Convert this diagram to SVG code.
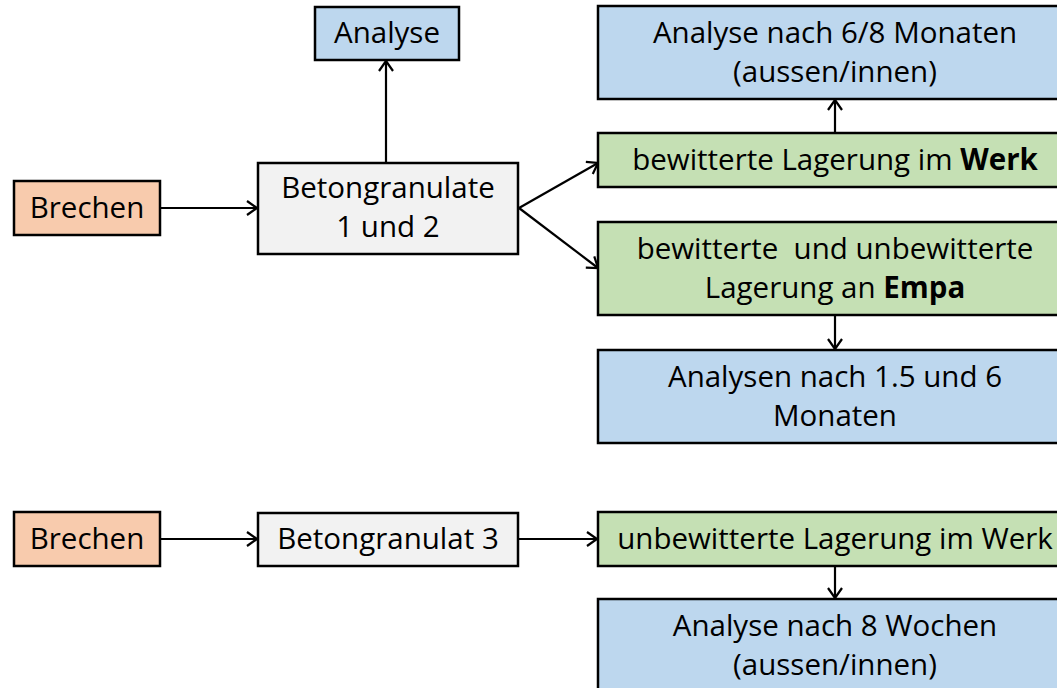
<svg xmlns="http://www.w3.org/2000/svg" width="1057" height="688" viewBox="0 0 1057 688">
<defs>
<style>
rect{stroke:#000;stroke-width:2.5}
.o{fill:#F8CBAD}.g{fill:#F2F2F2}.b{fill:#BDD7EE}.gr{fill:#C5E0B4}
text{font-family:"Open Sans","Liberation Sans",sans-serif;font-size:29.5px;fill:#000;text-anchor:middle;white-space:pre}
.bd{font-weight:bold}
.c line{stroke:#000;stroke-width:2.2;marker-end:url(#ah)}
</style>
<marker id="ah" markerUnits="userSpaceOnUse" markerWidth="20" markerHeight="20" refX="11" refY="8" orient="auto">
<path d="M1,1 L11,8 L1,15" fill="none" stroke="#000" stroke-width="2.2"/>
</marker>
</defs>
<g class="c">
<line x1="160" y1="208" x2="257" y2="208"/>
<line x1="386" y1="163" x2="386" y2="61"/>
<line x1="519" y1="208" x2="598" y2="163"/>
<line x1="519" y1="208" x2="598" y2="268"/>
<line x1="835" y1="133" x2="835" y2="100"/>
<line x1="835" y1="315" x2="835" y2="349"/>
<line x1="160" y1="539" x2="257" y2="539"/>
<line x1="518" y1="539" x2="597" y2="539"/>
<line x1="835" y1="566" x2="835" y2="598"/>
</g>
<g id="brechen1"><rect class="o" x="14" y="181" width="146" height="54"/><text x="87" y="218">Brechen</text></g>
<g id="betongranulate12"><rect class="g" x="258" y="163" width="260" height="91"/><text x="388" y="198">Betongranulate</text><text x="388" y="237">1 und 2</text></g>
<g id="analyse"><rect class="b" x="315" y="7" width="144" height="53"/><text x="387" y="43">Analyse</text></g>
<g id="analyse68"><rect class="b" x="598" y="6" width="474" height="93"/><text x="835" y="43">Analyse nach 6/8 Monaten</text><text x="835" y="82">(aussen/innen)</text></g>
<g id="werk"><rect class="gr" x="598" y="133" width="474" height="54"/><text x="835" y="170">bewitterte Lagerung im <tspan class="bd">Werk</tspan></text></g>
<g id="empa"><rect class="gr" x="598" y="222" width="474" height="93"/><text x="835" y="259">bewitterte  und unbewitterte</text><text x="835" y="298">Lagerung an <tspan class="bd">Empa</tspan></text></g>
<g id="analysen156"><rect class="b" x="598" y="350" width="474" height="93"/><text x="835" y="387">Analysen nach 1.5 und 6</text><text x="835" y="426">Monaten</text></g>
<g id="brechen2"><rect class="o" x="14" y="512" width="146" height="54"/><text x="87" y="549">Brechen</text></g>
<g id="betongranulat3"><rect class="g" x="258" y="513" width="260" height="53"/><text x="388" y="549">Betongranulat 3</text></g>
<g id="unbewittert"><rect class="gr" x="598" y="512" width="474" height="54"/><text x="835" y="549">unbewitterte Lagerung im Werk</text></g>
<g id="analyse8w"><rect class="b" x="598" y="599" width="474" height="93"/><text x="835" y="636">Analyse nach 8 Wochen</text><text x="835" y="675">(aussen/innen)</text></g>
</svg>
